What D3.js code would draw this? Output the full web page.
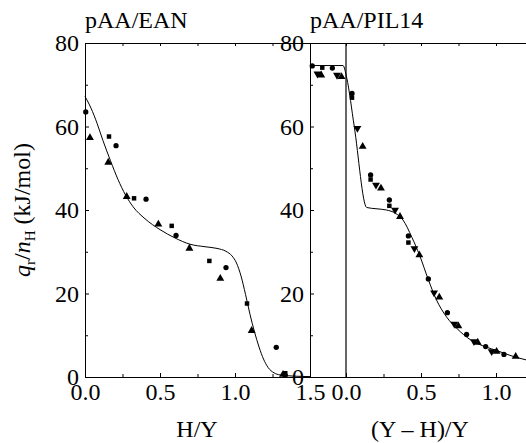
<!DOCTYPE html>
<html>
<head>
<meta charset="utf-8">
<script src="https://cdn.jsdelivr.net/npm/d3@7"></script>
<style>
  body { margin: 0; background: #fff; }
  svg { display: block; }
  text { font-family: "Liberation Serif", "Times New Roman", serif; fill: #000; }
  .axis path, .axis line { stroke: #000; stroke-width: 1; }
</style>
</head>
<body>
<script>
// values

// left panel, pAA/EAN : [H/Y, q/n]
var eanCircles = [[0.005,63.5],[0.207,55.4],[0.407,42.6],[0.607,33.9],[0.94,26.2],[1.275,7.1],[1.335,0.4]];
var eanSquares = [[0.16,57.6],[0.327,42.8],[0.578,36.2],[0.829,27.8],[1.08,17.6],[1.335,0.9]];
var eanTriangles = [[0.033,57.3],[0.155,51.4],[0.278,43.2],[0.489,36.6],[0.696,30.8],[0.902,23.6],[1.111,11.1],[1.32,0.6]];
var eanFit = [[0,67.2],[0.04,64.4],[0.08,60.8],[0.12,56.6],[0.17,51.8],[0.22,47.3],[0.27,43.6],[0.32,40.8],
  [0.4,37.9],[0.5,35.3],[0.6,33.3],[0.7,31.8],[0.8,31.2],[0.88,30.8],[0.94,30.1],[0.98,29.0],[1.01,27.3],
  [1.04,24.2],[1.07,19.8],[1.1,15.0],[1.13,10.8],[1.16,7.2],[1.19,4.3],[1.22,2.3],[1.26,1.0],[1.3,0.5],
  [1.4,0.2],[1.5,0.1]];

// right panel, pAA/PIL14 : [(Y-H)/Y, q/n]
var pilCircles = [[-0.225,74.5],[-0.091,74.0],[0.04,67.9],[0.164,48.4],[0.289,42.4],[0.416,33.8],[0.549,23.5],
  [0.676,15.4],[0.804,10.2],[0.931,7.3],[1.053,5.4]];
var pilSquares = [[-0.158,74.1],[0.04,66.9],[0.164,47.3],[0.289,41.0],[0.416,32.2]];
var pilDown = [[-0.19,72.6],[-0.06,72.3],[0.076,59.6],[0.2,46.0],[0.327,40.0],[0.456,30.8],[0.587,20.2],
  [0.722,12.7],[0.853,8.5],[0.971,6.1]];
var pilUp = [[-0.165,72.3],[-0.03,71.9],[0.111,55.2],[0.233,45.2],[0.36,38.4],[0.489,29.2],[0.622,19.1],
  [0.749,12.2],[0.878,8.3],[1.004,6.1],[1.131,4.9]];
var pilFit = [[-0.24,74.6],[-0.02,74.6],[0.005,71.6],[0.055,60.0],[0.138,40.6],[0.2,40.3],[0.27,40.0],
  [0.33,39.2],[0.38,37.6],[0.44,33.4],[0.49,29.2],[0.55,23.2],[0.6,18.7],[0.67,14.4],[0.74,11.6],
  [0.83,8.9],[0.94,7.1],[1.0,6.4],[1.1,5.1],[1.2,4.1]];

var yMajor = [0, 20, 40, 60, 80],
    yMinor = [10, 30, 50, 70];
var xLeftMajor = [0, 0.5, 1.0, 1.5],
    xLeftMinor = [0.25, 0.75, 1.25];
var xRightMajor = [0, 0.5, 1.0],
    xRightMinor = [0.25, 0.75];

var width = 526, height = 443;

var svg = d3.select("body").append("svg")
    .attr("width", width)
    .attr("height", height);

var y = d3.scaleLinear().domain([0, 80]).range([377, 43]);
var xL = d3.scaleLinear().domain([0, 1.5]).range([85, 310]);
var xR = d3.scaleLinear().domain([-0.24, 1.2]).range([310, 526]);

var fmt = d3.format(".1f");

//draw one set of axes (left y, bottom x, top ticks)
function drawAxes(x, major, minor, yAt){
    var g = svg.append("g");

    g.append("g").attr("class", "axis")
        .attr("transform", "translate(0,377)")
        .call(d3.axisBottom(x).tickValues(major).tickSize(-4).tickSizeOuter(0)
            .tickPadding(6).tickFormat(fmt));
    g.append("g").attr("class", "axis")
        .attr("transform", "translate(0,377)")
        .call(d3.axisBottom(x).tickValues(minor).tickSize(-3).tickSizeOuter(0).tickFormat(""));

    g.append("g").attr("class", "axis")
        .attr("transform", "translate(0,43)")
        .call(d3.axisTop(x).tickValues(major.concat(minor)).tickSize(-3).tickSizeOuter(0).tickFormat(""));

    g.append("g").attr("class", "axis")
        .attr("transform", "translate(" + yAt + ",0)")
        .call(d3.axisLeft(y).tickValues(yMajor).tickSize(-4).tickSizeOuter(0).tickPadding(6));
    g.append("g").attr("class", "axis")
        .attr("transform", "translate(" + yAt + ",0)")
        .call(d3.axisLeft(y).tickValues(yMinor).tickSize(-3).tickSizeOuter(0).tickFormat(""));

    g.selectAll("text")
        .style("font-size", "24px")
        .style("font-family", "'Liberation Serif', serif");
    g.selectAll(".domain").attr("fill", "none");
    return g;
}

drawAxes(xL, xLeftMajor, xLeftMinor, 85);
drawAxes(xR, xRightMajor, xRightMinor, 310);

//vertical line at zero in the right panel
svg.append("line")
    .attr("x1", xR(0)).attr("x2", xR(0))
    .attr("y1", y(80)).attr("y2", y(0))
    .attr("stroke", "#000").attr("stroke-width", 1.2);

//fitted curves
function drawFit(x, data){
    var line = d3.line()
        .x(function(d){ return x(d[0]); })
        .y(function(d){ return y(d[1]); })
        .curve(d3.curveMonotoneX);
    svg.append("path")
        .datum(data)
        .attr("d", line)
        .attr("fill", "none")
        .attr("stroke", "#000")
        .attr("stroke-width", 1);
}
drawFit(xL, eanFit);
drawFit(xR, pilFit);

//markers
function drawPoints(x, data, type, size, rot){
    svg.append("g").selectAll("path")
        .data(data)
        .enter()
        .append("path")
        .attr("d", d3.symbol().type(type).size(size))
        .attr("transform", function(d){
            return "translate(" + x(d[0]) + "," + y(d[1]) + ")" + (rot ? " rotate(" + rot + ")" : "");
        })
        .attr("fill", "#000");
}
drawPoints(xL, eanCircles, d3.symbolCircle, 22);
drawPoints(xL, eanSquares, d3.symbolSquare, 20);
drawPoints(xL, eanTriangles, d3.symbolTriangle, 27);
drawPoints(xR, pilCircles, d3.symbolCircle, 22);
drawPoints(xR, pilSquares, d3.symbolSquare, 20);
drawPoints(xR, pilDown, d3.symbolTriangle, 27, 180);
drawPoints(xR, pilUp, d3.symbolTriangle, 27);

//titles
svg.append("text").attr("x", 85).attr("y", 28)
    .style("font-size", "24px").text("pAA/EAN");
svg.append("text").attr("x", 310).attr("y", 28)
    .style("font-size", "24px").text("pAA/PIL14");

//x labels
svg.append("text").attr("x", 197).attr("y", 437)
    .attr("text-anchor", "middle").style("font-size", "24px").text("H/Y");
svg.append("text").attr("x", 420).attr("y", 437)
    .attr("text-anchor", "middle").style("font-size", "24px").text("(Y \u2013 H)/Y");

//y label
var yl = svg.append("text")
    .attr("transform", "translate(30,210) rotate(-90)")
    .attr("text-anchor", "middle")
    .style("font-size", "24px");
yl.append("tspan").style("font-style", "italic").text("q");
yl.append("tspan").attr("dy", 5).style("font-size", "15px").text("r");
yl.append("tspan").attr("dy", -5).text("/");
yl.append("tspan").style("font-style", "italic").text("n");
yl.append("tspan").attr("dy", 5).style("font-size", "15px").text("H");
yl.append("tspan").attr("dy", -5).text(" (kJ/mol)");
</script>
</body>
</html>
